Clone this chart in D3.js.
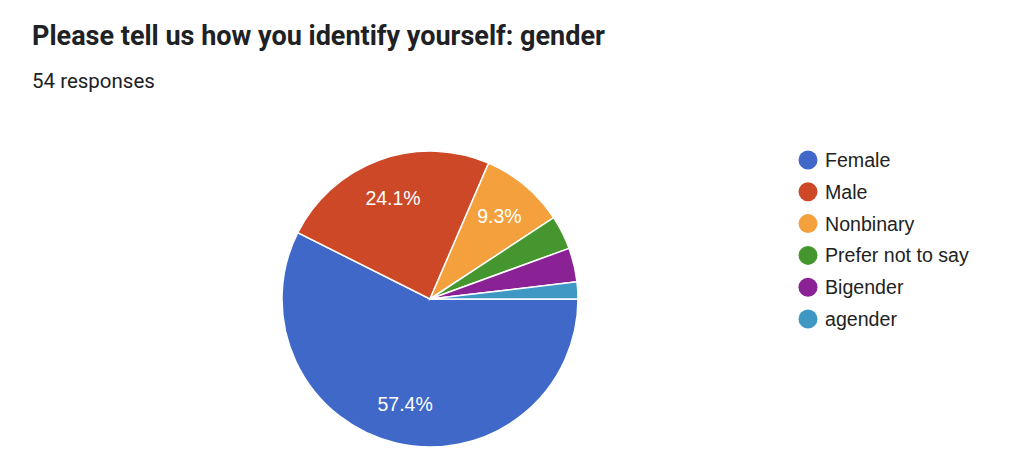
<!DOCTYPE html>
<html>
<head>
<meta charset="utf-8">
<script src="https://cdn.jsdelivr.net/npm/d3@7"></script>
<style>
  body { margin: 0; background: #fff; }
  text { font-family: "Liberation Sans", Arial, sans-serif; }
  .ttl { font-family: Roboto, "Noto Sans", sans-serif; }
</style>
</head>
<body>
<script>
const width = 1024;
const height = 469;

// The data
const categories = ['Female', 'Male', 'Nonbinary', 'Prefer not to say', 'Bigender', 'agender'];
const counts = [31, 13, 5, 2, 2, 1];
const colors = ['#3f68c8', '#cc4827', '#f4a03c', '#46962f', '#8a2296', '#3f98c4'];

const mainTitle = 'Please tell us how you identify yourself: gender';
const subTitle = '54 responses';

const total = d3.sum(counts);
const cx = 430, cy = 299, radius = 148;

var svg = d3.select('body')
  .append('svg')
  .attr('width', width)
  .attr('height', height);

// titles
svg.append('text')
  .attr('class', 'ttl')
  .attr('x', 32)
  .attr('y', 45)
  .style('font-size', '27px')
  .style('font-weight', 'bold')
  .style('fill', '#202124')
  .text(mainTitle);

svg.append('text')
  .attr('class', 'ttl')
  .attr('x', 32)
  .attr('y', 88)
  .style('font-size', '20.5px')
  .style('fill', '#202124')
  .text(subTitle);

// pie, starting at 3 o'clock going clockwise
var pie = d3.pie()
  .sort(null)
  .startAngle(Math.PI / 2)
  .endAngle(Math.PI / 2 + 2 * Math.PI);

var arcs = pie(counts);

var arc = d3.arc().innerRadius(0).outerRadius(radius);
var labelArc = d3.arc().innerRadius(radius * 0.73).outerRadius(radius * 0.73);

var g = svg.append('g').attr('transform', 'translate(' + cx + ',' + cy + ')');

g.selectAll('path')
  .data(arcs)
  .join('path')
  .attr('d', arc)
  .attr('fill', (d, i) => colors[i])
  .attr('stroke', '#fff')
  .attr('stroke-width', 1.5);

// labels only for slices big enough
g.selectAll('text.lbl')
  .data(arcs.filter(d => d.value / total > 0.05))
  .join('text')
  .attr('class', 'lbl')
  .attr('transform', d => 'translate(' + labelArc.centroid(d) + ')')
  .attr('text-anchor', 'middle')
  .attr('dy', '0.36em')
  .style('font-size', '19.5px')
  .style('fill', '#fff')
  .text(d => (d.value / total * 100).toFixed(1) + '%');

// legend
var legend = svg.append('g').attr('transform', 'translate(808,160)');
var row = legend.selectAll('g')
  .data(categories)
  .join('g')
  .attr('transform', (d, i) => 'translate(0,' + (i * 31.8) + ')');

row.append('circle')
  .attr('r', 9.5)
  .attr('fill', (d, i) => colors[i]);

row.append('text')
  .attr('x', 17)
  .attr('dy', '0.36em')
  .style('font-size', '19.6px')
  .style('fill', '#222')
  .text(d => d);
</script>
</body>
</html>
